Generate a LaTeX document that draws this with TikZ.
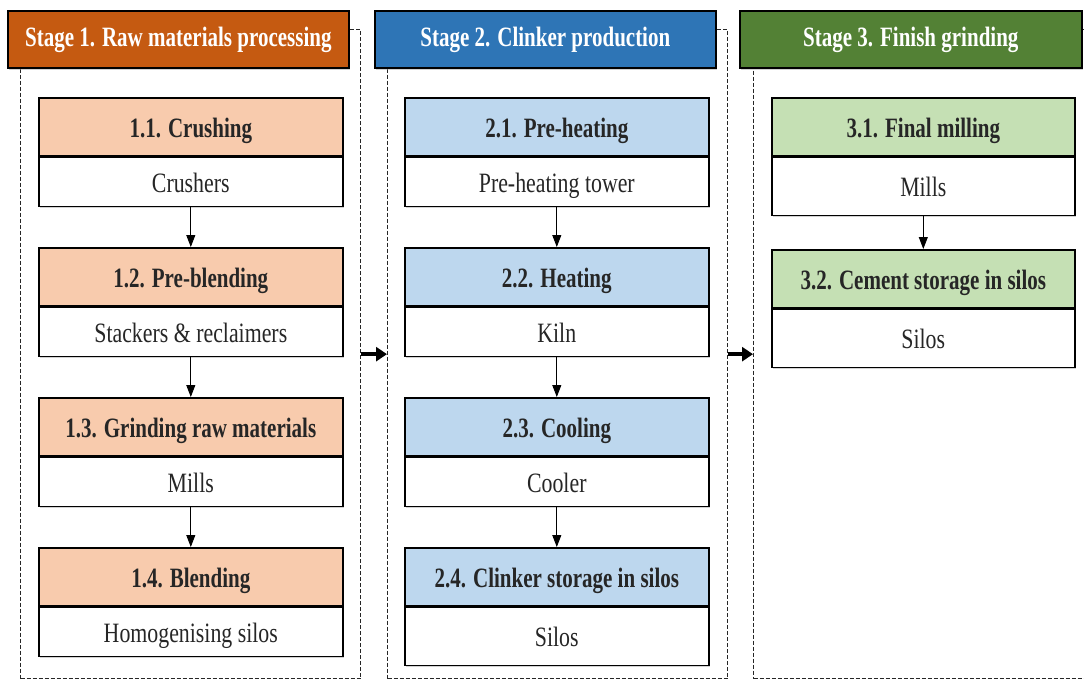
\documentclass[tikz,border=0pt]{standalone}
\usepackage{fontspec}
\setmainfont{Liberation Serif}
\newfontfamily\hfont{Liberation Serif}[FakeStretch=0.75]
\newfontfamily\bfont{Liberation Serif}[FakeStretch=0.78]
\usetikzlibrary{arrows.meta,shadows}
\definecolor{orD}{HTML}{C55A11}
\definecolor{orL}{HTML}{F8CBAD}
\definecolor{blD}{HTML}{2E75B6}
\definecolor{blL}{HTML}{BDD7EE}
\definecolor{grD}{HTML}{538135}
\definecolor{grL}{HTML}{C5E0B4}
\definecolor{txt}{HTML}{262626}
\tikzset{
  cont/.style={draw=black!85, line width=1.3pt, dash pattern=on 4pt off 2pt, inner sep=0pt,
    anchor=north west, minimum width=340pt, minimum height=649pt},
  shad/.style={drop shadow={shadow xshift=1.5pt, shadow yshift=-2pt, fill=black!35}},
  stagehd/.style={draw=black, line width=1.6pt, anchor=north west, minimum width=341pt,
    minimum height=57pt, inner sep=0pt, text=white, shad,
    font=\hfont\bfseries\fontsize{28}{30}\selectfont, text height=17pt, text depth=2pt},
  hd/.style={draw=black, line width=1.6pt, anchor=north west, minimum width=304pt,
    minimum height=58pt, inner sep=0pt, text=txt, shad,
    font=\hfont\bfseries\fontsize{28}{30}\selectfont, text height=24pt, text depth=2pt},
  bd/.style={draw=black, line width=1.6pt, fill=white, anchor=north, minimum width=304pt,
    minimum height=49pt, inner sep=0pt, text=txt, shad,
    font=\bfont\fontsize{28}{30}\selectfont, text height=22pt, text depth=1pt},
  flow/.style={line width=0.9pt, -{Triangle[length=12pt,width=9pt]}},
  stagearrow/.style={line width=4pt, -{Triangle[length=11pt,width=14pt]}},
}
\begin{document}
\begin{tikzpicture}[x=1pt,y=-1pt]
\useasboundingbox (0,0) rectangle (1084,680);
\clip (0,0) rectangle (1084,680);
% dashed stage containers
\node[cont] (c1) at (20,29) {};
\node[cont] (c2) at (387,29) {};
\node[cont, minimum width=342pt] (c3) at (753,29) {};
% stage headers
\node[stagehd, fill=orD] (s1) at (7,10) {Stage 1. Raw materials processing};
\node[stagehd, fill=blD] (s2) at (374,10) {Stage 2. Clinker production};
\node[stagehd, fill=grD, minimum width=342pt] (s3) at (739,10) {Stage 3. Finish grinding};
% stage 1
\node[hd, fill=orL] (h11) at (38,97) {1.1. Crushing};
\node[bd] (b11) at (h11.south) {Crushers};
\node[hd, fill=orL] (h12) at (38,247) {1.2. Pre-blending};
\node[bd] (b12) at (h12.south) {Stackers \& reclaimers};
\node[hd, fill=orL] (h13) at (38,397) {1.3. Grinding raw materials};
\node[bd] (b13) at (h13.south) {Mills};
\node[hd, fill=orL] (h14) at (38,547) {1.4. Blending};
\node[bd] (b14) at (h14.south) {Homogenising silos};
% stage 2
\node[hd, fill=blL] (h21) at (404,97) {2.1. Pre-heating};
\node[bd] (b21) at (h21.south) {Pre-heating tower};
\node[hd, fill=blL] (h22) at (404,247) {2.2. Heating};
\node[bd] (b22) at (h22.south) {Kiln};
\node[hd, fill=blL] (h23) at (404,397) {2.3. Cooling};
\node[bd] (b23) at (h23.south) {Cooler};
\node[hd, fill=blL] (h24) at (404,547) {2.4. Clinker storage in silos};
\node[bd, minimum height=58pt] (b24) at (h24.south) {Silos};
% stage 3
\node[hd, fill=grL, minimum width=303pt] (h31) at (771,97) {3.1. Final milling};
\node[bd, minimum width=303pt, minimum height=58pt] (b31) at (h31.south) {Mills};
\node[hd, fill=grL, minimum width=303pt] (h32) at (771,249) {3.2. Cement storage in silos};
\node[bd, minimum width=303pt, minimum height=58pt] (b32) at (h32.south) {Silos};
% flows
\draw[flow] (b11.south) -- (h12.north);
\draw[flow] (b12.south) -- (h13.north);
\draw[flow] (b13.south) -- (h14.north);
\draw[flow] (b21.south) -- (h22.north);
\draw[flow] (b22.south) -- (h23.north);
\draw[flow] (b23.south) -- (h24.north);
\draw[flow] (b31.south) -- (h32.north);
\draw[stagearrow] (c1.east) -- (c2.west);
\draw[stagearrow] (c2.east) -- (c3.west);
\end{tikzpicture}
\end{document}
